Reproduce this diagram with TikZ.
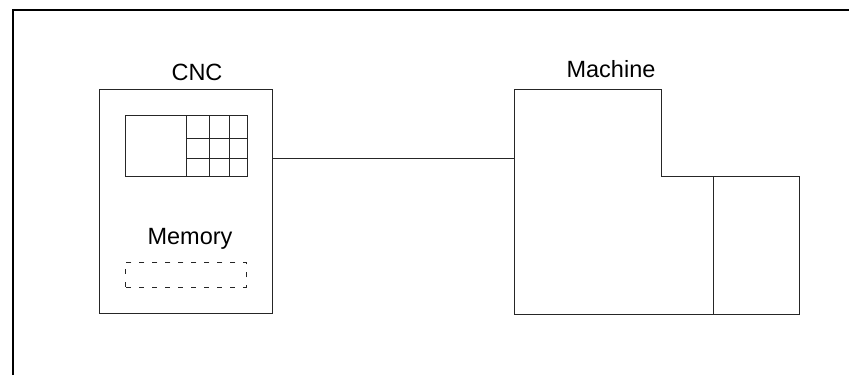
\documentclass[tikz,border=0pt]{standalone}
\usepackage{fontspec}
\setmainfont{Liberation Sans}
\begin{document}
\begin{tikzpicture}[x=1pt,y=-1pt,
  ln/.style={draw=black!85, line width=1pt},
  lbl/.style={anchor=base, inner sep=0pt, font=\fontsize{23.5}{28}\selectfont},
  boxn/.style={ln, anchor=north west, inner sep=0pt, outer sep=0pt}]
\useasboundingbox (0,0) rectangle (849,375);
% frame
\draw[line width=1.6pt] (13,375) -- (13,10) -- (849,10);
% CNC
\node[boxn, minimum width=173pt, minimum height=224pt] (cnc) at (99,89) {};
\node[lbl] (cnclbl) at (197,80.5) {CNC};
\node[boxn, minimum width=122pt, minimum height=61pt] (disp) at (125,115) {};
\draw[ln] (186,115) -- (186,176);
\draw[ln] (209,115) -- (209,176);
\draw[ln] (229,115) -- (229,176);
\draw[ln] (186,138) -- (248,138);
\draw[ln] (186,158) -- (248,158);
\node[lbl] (memlbl) at (190,244.5) {Memory};
\node[draw=black!85, line width=0.8pt, dash pattern=on 5pt off 8pt, dash phase=-1pt, anchor=north west, inner sep=0pt,
  minimum width=121pt, minimum height=25pt] (mem) at (125,262) {};
% Machine
\coordinate (mL) at (514,158);
\draw[ln] (514,314) -- (514,89) -- (661,89) -- (661,176) -- (799,176) -- (799,314) -- cycle;
\draw[ln] (713,176) -- (713,314);
\node[lbl] (machlbl) at (611,77.8) {Machine};
% connector
\draw[ln] (cnc.east |- mL) -- (mL);
\end{tikzpicture}
\end{document}
